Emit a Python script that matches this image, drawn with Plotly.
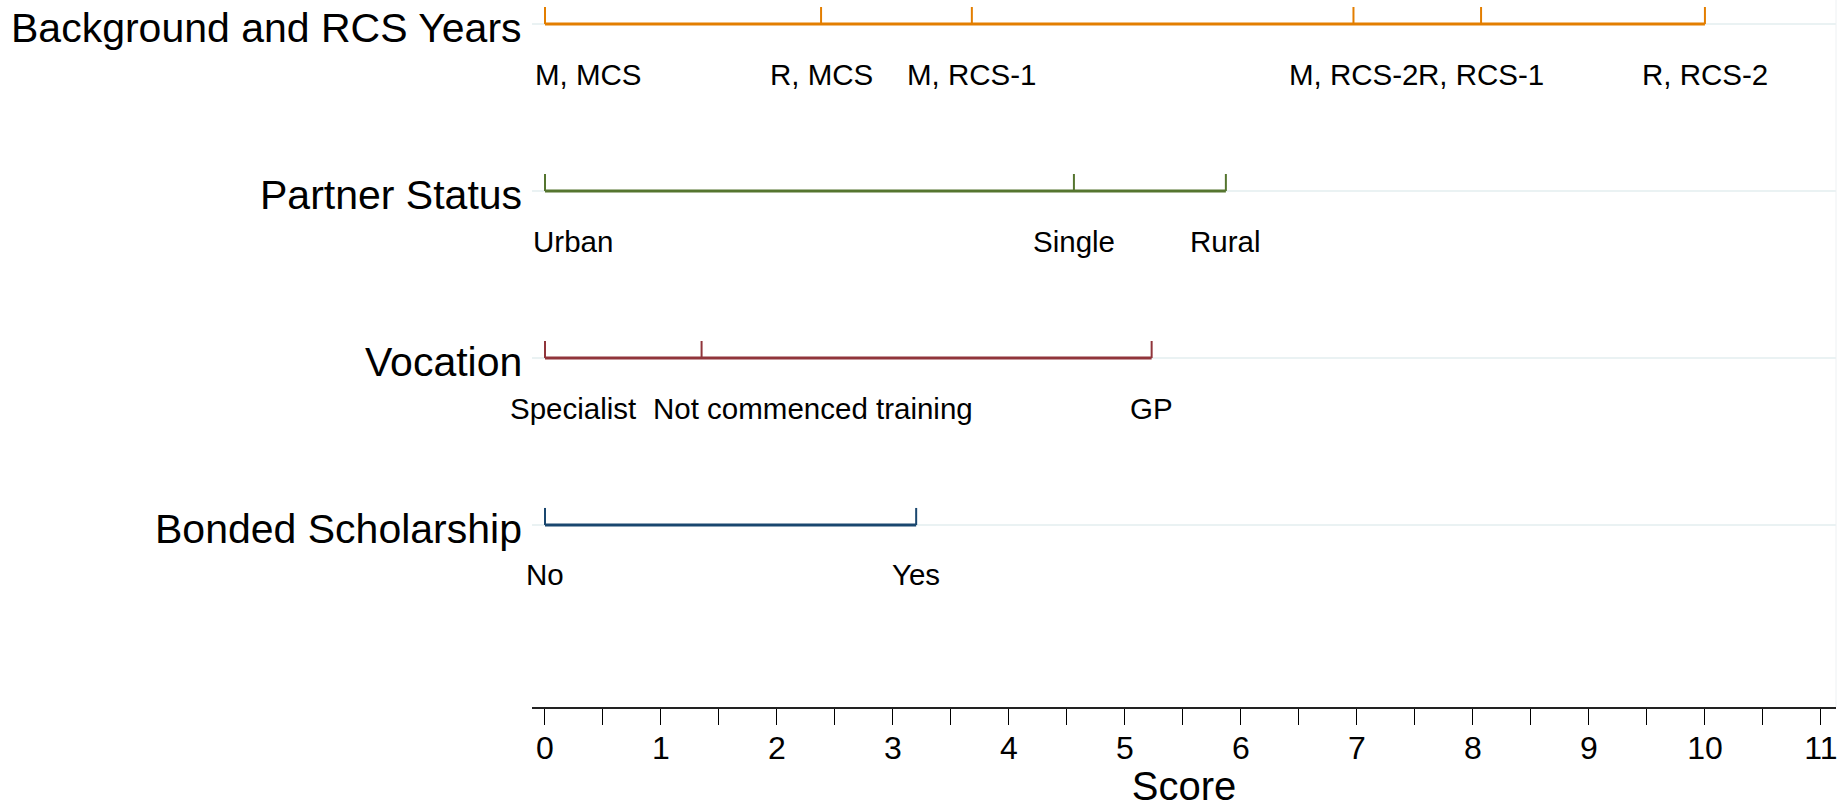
import plotly.graph_objects as go

# Nomogram rows (top to bottom) and the score attached to each level
rows = ["Background and RCS Years", "Partner Status", "Vocation", "Bonded Scholarship"]

background_levels = ["M, MCS", "R, MCS", "M, RCS-1", "M, RCS-2", "R, RCS-1", "R, RCS-2"]
background_scores = [0, 2.38, 3.68, 6.97, 8.07, 10.0]

partner_levels = ["Urban", "Single", "Rural"]
partner_scores = [0, 4.56, 5.87]

vocation_levels = ["Specialist", "Not commenced training", "GP"]
vocation_scores = [0, 1.35, 5.23]

bonded_levels = ["No", "Yes"]
bonded_scores = [0, 3.2]

score_ticks = list(range(0, 12))

# Styling
FONT = "Liberation Sans, Arial, Helvetica, sans-serif"
row_colors = ["#e37e00", "#55752f", "#90353b", "#1a476f"]
row_y = [4, 3, 2, 1]
TICK_H = 0.102          # height of level ticks, in row units
LABEL_DROP = -50        # px below the row line for level labels
label_xshift = {"M, MCS": 44, "Urban": 28, "Specialist": 28, "Not commenced training": 111}

series = [
    (background_levels, background_scores),
    (partner_levels, partner_scores),
    (vocation_levels, vocation_scores),
    (bonded_levels, bonded_scores),
]

fig = go.Figure()
annotations = []

for name, (levels, scores), y, color in zip(rows, series, row_y, row_colors):
    lo, hi = min(scores), max(scores)
    # row line
    fig.add_trace(go.Scatter(
        x=[lo, hi], y=[y, y], mode="lines",
        line=dict(color=color, width=3),
        hoverinfo="skip", showlegend=False, cliponaxis=False,
    ))
    # upward ticks at each level
    tx, ty = [], []
    for s in scores:
        tx += [s, s, None]
        ty += [y, y + TICK_H, None]
    fig.add_trace(go.Scatter(
        x=tx, y=ty, mode="lines",
        line=dict(color=color, width=2),
        hoverinfo="skip", showlegend=False, cliponaxis=False,
    ))
    # row title to the left of the plot area
    annotations.append(dict(
        x=0, y=y, xref="paper", yref="y", text=name, showarrow=False,
        xanchor="right", yanchor="middle", xshift=-8, yshift=-4,
        font=dict(family=FONT, size=41, color="black"),
    ))
    for lab, s in zip(levels, scores):
        annotations.append(dict(
            x=s, y=y, xref="x", yref="y", text=lab, showarrow=False,
            xanchor="center", yanchor="middle",
            xshift=label_xshift.get(lab, 0), yshift=LABEL_DROP,
            font=dict(family=FONT, size=29.5, color="black"),
        ))

fig.update_layout(
    width=1847, height=808,
    margin=dict(l=532, r=11, t=0, b=101),
    paper_bgcolor="white", plot_bgcolor="white",
    font=dict(family=FONT, color="black"),
    annotations=annotations,
    shapes=[dict(type="line", xref="paper", yref="paper", x0=1, x1=1, y0=0, y1=1,
                 line=dict(color="#eef1f3", width=1))],
)

fig.update_xaxes(
    range=[-0.112, 11.13],
    showgrid=False, zeroline=False,
    showline=True, linecolor="#222222", linewidth=2,
    ticks="outside", ticklen=16, tickwidth=1.3, tickcolor="black",
    tickvals=score_ticks, ticktext=[str(t) for t in score_ticks],
    tickfont=dict(family=FONT, size=32, color="black"),
    ticklabelstandoff=-4,
    minor=dict(dtick=0.5, tick0=0, ticks="outside", ticklen=16, tickwidth=1.3,
               tickcolor="black", showgrid=False),
    title=dict(text="Score", font=dict(family=FONT, size=40, color="black"), standoff=10),
)

fig.update_yaxes(
    range=[-0.09, 4.144],
    tickvals=row_y, showticklabels=False,
    showgrid=True, gridcolor="#eaf2f3", gridwidth=2,
    zeroline=False, showline=False, ticks="",
)

fig.write_html("out.html")
